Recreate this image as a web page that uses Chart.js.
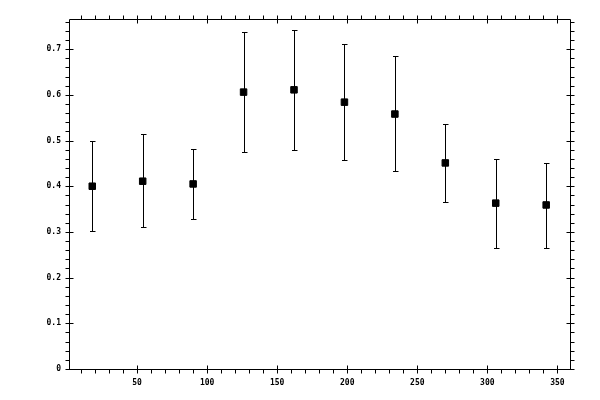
<!DOCTYPE html>
<html>
<head>
<meta charset="utf-8">
<script src="https://cdn.jsdelivr.net/npm/chart.js@4"></script>
<style>
html,body{margin:0;padding:0;background:#fff;}
#wrap{width:600px;height:400px;position:relative;}
</style>
</head>
<body>
<div id="wrap"><canvas id="c" width="600" height="400"></canvas></div>
<script>
// ---- data ----
const angles = [18, 54, 90, 126, 162, 198, 234, 270, 306, 342];
const values = [0.400, 0.411, 0.405, 0.606, 0.611, 0.584, 0.558, 0.451, 0.363, 0.359];
const errLow = [0.303, 0.311, 0.328, 0.475, 0.479, 0.457, 0.433, 0.365, 0.265, 0.265];
const errHigh = [0.499, 0.514, 0.481, 0.737, 0.742, 0.711, 0.685, 0.536, 0.460, 0.451];

const xMajorTicks = [50, 100, 150, 200, 250, 300, 350];
const yMajorTicks = [0, 0.1, 0.2, 0.3, 0.4, 0.5, 0.6, 0.7];
const yTickLabels = ['0', '0.1', '0.2', '0.3', '0.4', '0.5', '0.6', '0.7'];
const xMinorStep = 10;
const yMinorStep = 0.02;

const X_MIN = 1.4, X_MAX = 359, Y_MIN = 0, Y_MAX = 0.766;

const FONT = {family: '"DejaVu Sans Mono", monospace', size: 8, weight: 'bold'};

const errorBars = {
  id: 'errorBars',
  afterDatasetsDraw(chart) {
    const ctx = chart.ctx, xs = chart.scales.x, ys = chart.scales.y;
    ctx.save();
    ctx.strokeStyle = '#000';
    ctx.lineWidth = 1;
    ctx.beginPath();
    for (let i = 0; i < angles.length; i++) {
      const px = Math.round(xs.getPixelForValue(angles[i])) + 0.5;
      const lo = Math.round(ys.getPixelForValue(errLow[i])) + 0.5;
      const hi = Math.round(ys.getPixelForValue(errHigh[i])) + 0.5;
      ctx.moveTo(px, lo); ctx.lineTo(px, hi);
      ctx.moveTo(px - 2.5, lo); ctx.lineTo(px + 3, lo);
      ctx.moveTo(px - 2.5, hi); ctx.lineTo(px + 3, hi);
    }
    ctx.stroke();
    ctx.restore();
  }
};

const frameTicks = {
  id: 'frameTicks',
  afterDraw(chart) {
    const ctx = chart.ctx, xs = chart.scales.x, ys = chart.scales.y;
    const a = chart.chartArea;
    const L = Math.round(a.left) + 0.5, R = Math.round(a.right) + 0.5;
    const T = Math.round(a.top) + 0.5, B = Math.round(a.bottom) + 0.5;
    ctx.save();
    ctx.strokeStyle = '#000';
    ctx.lineWidth = 1;
    ctx.beginPath();
    ctx.rect(L, T, R - L, B - T);
    // x ticks (bottom and top)
    for (let v = xMinorStep; v <= X_MAX; v += xMinorStep) {
      const px = Math.round(xs.getPixelForValue(v)) + 0.5;
      const major = xMajorTicks.includes(Math.round(v));
      if (major) {
        ctx.moveTo(px, B - 4); ctx.lineTo(px, B + 4);
        ctx.moveTo(px, T - 4); ctx.lineTo(px, T + 4);
      } else {
        ctx.moveTo(px, B); ctx.lineTo(px, B + 4);
        ctx.moveTo(px, T); ctx.lineTo(px, T - 4);
      }
    }
    // y ticks (left and right)
    for (let k = 0; k * yMinorStep <= Y_MAX + 1e-9; k++) {
      const v = k * yMinorStep;
      const py = Math.round(ys.getPixelForValue(v)) + 0.5;
      const major = k % 5 === 0;
      if (major) {
        ctx.moveTo(L - 4, py); ctx.lineTo(L + 4, py);
        ctx.moveTo(R - 4, py); ctx.lineTo(R + 4, py);
      } else {
        ctx.moveTo(L, py); ctx.lineTo(L - 4, py);
        ctx.moveTo(R, py); ctx.lineTo(R + 4, py);
      }
    }
    ctx.stroke();
    ctx.restore();
  }
};

new Chart(document.getElementById('c'), {
  type: 'scatter',
  data: {
    datasets: [{
      data: angles.map((a, i) => ({x: a, y: values[i]})),
      pointStyle: 'rect',
      pointRadius: 4.6,
      pointHoverRadius: 4.6,
      backgroundColor: '#000',
      borderColor: '#000',
      borderWidth: 1,
      showLine: false
    }]
  },
  options: {
    responsive: false,
    animation: false,
    devicePixelRatio: 1,
    layout: {padding: {top: 19, right: 30, left: 0, bottom: 0}},
    plugins: {legend: {display: false}, tooltip: {enabled: false}},
    scales: {
      x: {
        type: 'linear', min: X_MIN, max: X_MAX,
        afterBuildTicks: s => { s.ticks = xMajorTicks.map(v => ({value: v})); },
        afterFit: s => { s.height = 31; },
        ticks: {color: '#000', font: FONT, padding: 9, maxRotation: 0, autoSkip: false,
                callback: v => String(v)},
        grid: {display: false, drawTicks: false},
        border: {display: false}
      },
      y: {
        type: 'linear', min: Y_MIN, max: Y_MAX,
        afterBuildTicks: s => { s.ticks = yMajorTicks.map(v => ({value: v})); },
        afterFit: s => { s.width = 69; },
        ticks: {color: '#000', font: FONT, padding: 8, autoSkip: false,
                callback: (v, i) => yTickLabels[i]},
        grid: {display: false, drawTicks: false},
        border: {display: false}
      }
    }
  },
  plugins: [errorBars, frameTicks]
});
</script>
</body>
</html>
